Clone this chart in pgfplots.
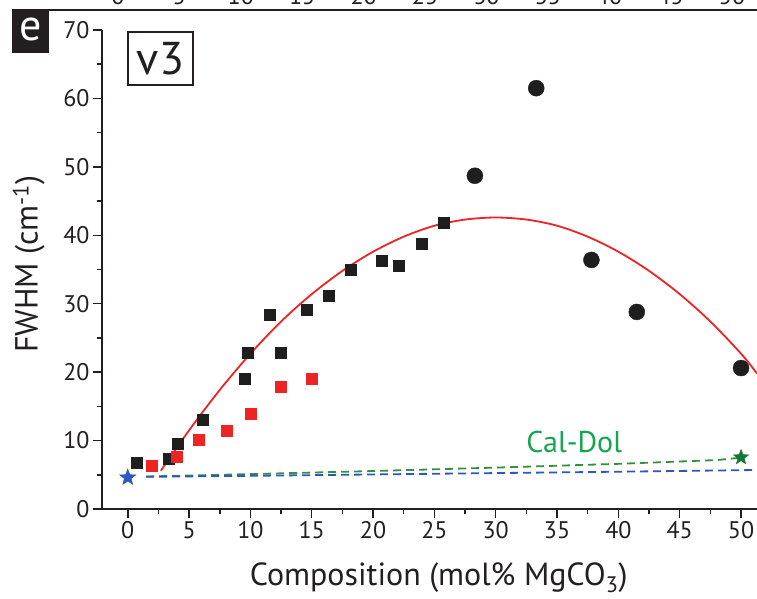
\documentclass[border=0pt]{standalone}
\usepackage{fontspec}
\setmainfont{PT Sans}
\usepackage{pgfplots}
\pgfplotsset{compat=1.18}
\definecolor{myred}{RGB}{237,35,36}
\definecolor{myblack}{RGB}{30,30,30}
\definecolor{myblue}{RGB}{45,85,195}
\definecolor{mygreen}{RGB}{50,145,60}
\definecolor{calgreen}{RGB}{20,165,80}
\definecolor{stargreen}{RGB}{20,120,50}
\definecolor{txt}{RGB}{35,31,32}
\pgfdeclareplotmark{fstar}{%
  \pgfpathmoveto{\pgfpointpolar{90}{\pgfplotmarksize}}%
  \pgfpathlineto{\pgfpointpolar{126}{0.42\pgfplotmarksize}}%
  \pgfpathlineto{\pgfpointpolar{162}{\pgfplotmarksize}}%
  \pgfpathlineto{\pgfpointpolar{198}{0.42\pgfplotmarksize}}%
  \pgfpathlineto{\pgfpointpolar{234}{\pgfplotmarksize}}%
  \pgfpathlineto{\pgfpointpolar{270}{0.42\pgfplotmarksize}}%
  \pgfpathlineto{\pgfpointpolar{306}{\pgfplotmarksize}}%
  \pgfpathlineto{\pgfpointpolar{342}{0.42\pgfplotmarksize}}%
  \pgfpathlineto{\pgfpointpolar{18}{\pgfplotmarksize}}%
  \pgfpathlineto{\pgfpointpolar{54}{0.42\pgfplotmarksize}}%
  \pgfpathclose
  \pgfusepathqfillstroke}
\begin{document}
\begin{tikzpicture}
\begin{axis}[
  scale only axis, width=655pt, height=479pt,
  xmin=-2.1, xmax=51.3, ymin=0, ymax=70,
  axis lines=left, axis line style={-, line width=1.8pt, txt},
  xtick={0,5,...,50}, ytick={0,10,...,70},
  minor x tick num=1, minor y tick num=1,
  tick align=outside, major tick length=9pt, minor tick length=5pt,
  tick style={line width=1.5pt, txt},
  ticklabel style={font=\fontsize{24}{28}\selectfont, text=txt},
  /pgf/number format/assume math mode=true,
  xlabel={Composition (mol\% MgCO\textsubscript{3})},
  ylabel={FWHM (cm\textsuperscript{-1})},
  label style={font=\fontsize{32}{38}\selectfont, text=txt},
  xlabel style={at={(axis description cs:0.514,-0.144)}, anchor=center},
  ylabel style={at={(axis description cs:-0.112,0.511)}, anchor=center},
]
% dashed reference lines
\addplot[mygreen, line width=1.8pt, dash pattern=on 8pt off 5pt] coordinates {
(1.5,4.75) (10,5.1) (20,5.55) (30,6.05) (40,6.6) (48,7.15) (50,7.5)};
\addplot[myblue, line width=1.8pt, dash pattern=on 8pt off 5pt] coordinates {
(1.5,4.7) (10,4.85) (20,5.05) (30,5.25) (40,5.45) (51.3,5.7)};
% red fit curve
\addplot[myred, line width=1.8pt, smooth] coordinates {
(2.7,5.6) (5,11.5) (7.5,17.4) (10,22.7) (12.5,27.4) (15,31.4) (17.5,34.8)
(20,37.6) (22.5,39.8) (25,41.4) (27.5,42.3) (30,42.6) (32.5,42.3) (35,41.4)
(37.5,39.8) (40,37.6) (42.5,34.8) (45,31.4) (47.5,27.4) (50,22.7) (51.3,19.8)};
% black squares
\addplot[only marks, mark=square*, mark size=5.5pt, myblack, mark options={fill=myblack, draw=myblack}] coordinates {
(0.7,6.7) (3.3,7.4) (4.05,9.5) (6.15,13.1) (9.55,19.0) (9.75,22.9) (11.6,28.4)
(12.5,22.8) (14.55,29.1) (16.4,31.2) (18.2,34.9) (20.7,36.3) (22.1,35.5)
(24.0,38.7) (25.75,41.9)};
% red squares
\addplot[only marks, mark=square*, mark size=5.5pt, myred, mark options={fill=myred, draw=myred}] coordinates {
(1.95,6.4) (3.95,7.6) (5.75,10.2) (8.05,11.4) (10.0,14.0) (12.5,17.9) (15.0,19.1)};
% black circles
\addplot[only marks, mark=*, mark size=8pt, myblack, mark options={fill=myblack, draw=myblack}] coordinates {
(28.3,48.7) (33.3,61.5) (37.8,36.4) (41.5,28.8) (50.0,20.6)};
% stars
\addplot[only marks, mark=fstar, mark size=8.5pt, myblue, mark options={fill=myblue, draw=myblue}] coordinates {(0,4.6)};
\addplot[only marks, mark=fstar, mark size=8pt, stargreen, mark options={fill=stargreen, draw=stargreen}] coordinates {(50,7.55)};
\node[text=calgreen, font=\fontsize{30}{36}\selectfont] at (axis cs:36.4,9.8) {Cal-Dol};
\end{axis}
% panel decorations
\draw[line width=2pt, txt] (-90pt,498.5pt) -- (655pt,498.5pt);
\foreach \i/\t in {0/0,1/5,2/10,3/15,4/20,5/25,6/30,7/35,8/40,9/45,10/50}
  \node[anchor=base, inner sep=0pt, font=\fontsize{24}{28}\selectfont, text=txt] at ({16pt+61.4pt*\i},504pt) {\t};
\fill[txt] (-90pt,456pt) rectangle (-53pt,499pt);
\node[text=white, font=\fontsize{44}{50}\selectfont, inner sep=0pt] at (-71.5pt,479pt) {e};
\node[draw=txt, line width=1.5pt, minimum width=65pt, minimum height=53pt, inner sep=0pt,
      font=\fontsize{46}{52}\selectfont, text=txt] at (58.5pt,450.5pt) {v3};
\pgfresetboundingbox
\useasboundingbox (-102pt,-89pt) rectangle (655pt,509pt);
\end{tikzpicture}
\end{document}
